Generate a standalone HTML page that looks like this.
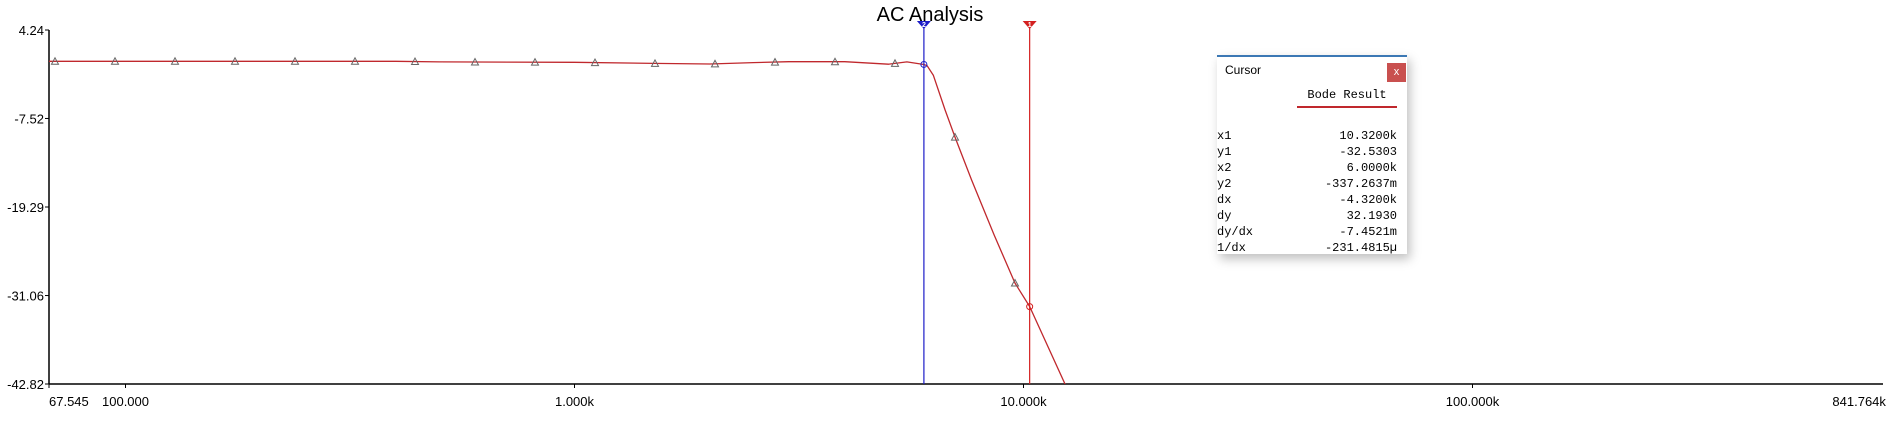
<!DOCTYPE html>
<html><head><meta charset="utf-8"><style>
body{margin:0;background:#fff;width:1887px;height:433px;overflow:hidden;position:relative;font-family:"Liberation Sans",sans-serif}
#cursor-box{position:absolute;left:1217px;top:55px;width:190px;height:199px;background:#fff;border-top:2px solid #3c78b4;box-sizing:border-box;box-shadow:3px 5px 10px rgba(0,0,0,0.25)}
.mono{font-family:"Liberation Mono",monospace;font-size:12px}
.row{position:absolute;left:0;width:180px;height:16px;line-height:16px}
.row span.v{position:absolute;right:0}
</style></head><body>
<svg id="chart" width="1887" height="433" style="position:absolute;left:0;top:0">
<text x="930" y="21" font-size="20" text-anchor="middle" font-family="Liberation Sans, sans-serif">AC Analysis</text>
<g id="axes"></g>
<g id="marks"></g>
</svg>
<div id="cursor-box">
 <div style="position:absolute;left:8px;top:6px;font-size:12px">Cursor</div>
 <div style="position:absolute;left:170px;top:6px;width:19px;height:19px;background:#c9504f;color:#fff;font-size:11px;text-align:center;line-height:18px">x</div>
 <div class="mono" style="position:absolute;left:80px;top:31px;width:100px;text-align:center;border-bottom:2px solid #c0282d;padding-bottom:4px">Bode Result</div>
 <div id="rows" class="mono"></div>
</div>
<script>
const freqs=[67.545,100,200,400,500,1000,1500,2000,2500,3000,4000,5000,5500,6000,6100,6300,6688,7038,7661,8600,9573,10320,12374,14000];
const gains=[0.08,0.08,0.08,0.08,0.0,-0.05,-0.2,-0.28,-0.1,0.02,0.02,-0.3,0.0,-0.34,-0.5,-1.8,-6.4,-10.0,-15.7,-23.0,-29.4,-32.53,-42.82,-49];
const yTicks=["4.24","-7.52","-19.29","-31.06","-42.82"];
const xTicks=[[67.545,"67.545"],[100,"100.000"],[1000,"1.000k"],[10000,"10.000k"],[100000,"100.000k"],[841764,"841.764k"]];
const cursor1=10320, cursor2=6000;
const cursorRows=[["x1","10.3200k"],["y1","-32.5303"],["x2","6.0000k"],["y2","-337.2637m"],["dx","-4.3200k"],["dy","32.1930"],["dy/dx","-7.4521m"],["1/dx","-231.4815µ"]];
const X0=49,Y0=30,Y1=384,DEC=449,YMAX=4.24,YMIN=-42.82;
const xs=f=>X0+Math.log10(f/67.545)*DEC;
const ys=v=>Y0+(YMAX-v)/(YMAX-YMIN)*(Y1-Y0);
const NS="http://www.w3.org/2000/svg";
function mk(t,a,p){const e=document.createElementNS(NS,t);for(const k in a)e.setAttribute(k,a[k]);p.appendChild(e);return e;}
const ax=document.getElementById('axes'),mg=document.getElementById('marks');
let e=mk('line',{x1:X0,y1:Y0,x2:X0,y2:Y1,stroke:'#000','stroke-width':1.5},ax);

e=mk('line',{x1:X0,y1:Y1,x2:1883,y2:Y1,stroke:'#000','stroke-width':1.5},ax);

yTicks.forEach(t=>{const y=ys(parseFloat(t));
 mk('line',{x1:X0-4,y1:y,x2:X0,y2:y,stroke:'#000'},ax);
 const tx=mk('text',{x:X0-5,y:y+5,'font-size':13,'text-anchor':'end'},ax);tx.textContent=t;
 });
xTicks.forEach(([f,t],i)=>{const x=xs(f);
 mk('line',{x1:x,y1:Y1,x2:x,y2:Y1+4,stroke:'#000'},ax);
 const anchor=i==0?'start':(i==xTicks.length-1?'end':'middle');
 const tx=mk('text',{x:x+(i==xTicks.length-1?-2:0),y:Y1+22,'font-size':13,'text-anchor':anchor},ax);tx.textContent=t;
 });
const cp=mk('clipPath',{id:'clip'},mg);mk('rect',{x:X0,y:Y0-10,width:1840,height:Y1-Y0+10},cp);
let d='';freqs.forEach((f,i)=>{d+=(i?'L':'M')+xs(f).toFixed(1)+','+ys(gains[i]).toFixed(1);});
e=mk('path',{d:d,fill:'none',stroke:'#c0282d','stroke-width':1.3,'stroke-linejoin':'round','clip-path':'url(#clip)'},mg);

function interp(x){for(let i=1;i<freqs.length;i++){const a=xs(freqs[i-1]),b=xs(freqs[i]);if(x<=b){const t=(x-a)/(b-a);return gains[i-1]+t*(gains[i]-gains[i-1]);}}return gains[gains.length-1];}
for(let x=55;x<=1020;x+=60){const y=ys(interp(x));
 const m=mk('path',{d:`M${x-3.5},${y+3}L${x},${y-3.5}L${x+3.5},${y+3}Z`,fill:'none',stroke:'#666','stroke-width':1},mg);
 }
[[cursor2,'#1c1cc8','2','cursor-2'],[cursor1,'#d42020','1','cursor-1']].forEach(([f,c,lab,n])=>{const x=xs(f);
 const l=mk('line',{x1:x,y1:22,x2:x,y2:Y1,stroke:c,'stroke-width':1.2},mg);
 
 const tr=mk('path',{d:`M${x-7},21L${x+7},21L${x},29Z`,fill:c},mg);
 
 const tt=mk('text',{x:x,y:27,'font-size':7,fill:'#fff','text-anchor':'middle','font-weight':'bold'},mg);tt.textContent=lab;
 const ci=mk('circle',{cx:x,cy:ys(interp(x)),r:3,fill:'none',stroke:c},mg);
 });
const rows=document.getElementById('rows');
cursorRows.forEach(([k,v],i)=>{const r=document.createElement('div');r.className='row';r.style.top=(71+i*16)+'px';
 
 
 r.innerHTML='<span>'+k+'</span><span class="v">'+v+'</span>';rows.appendChild(r);});
</script>
</body></html>
